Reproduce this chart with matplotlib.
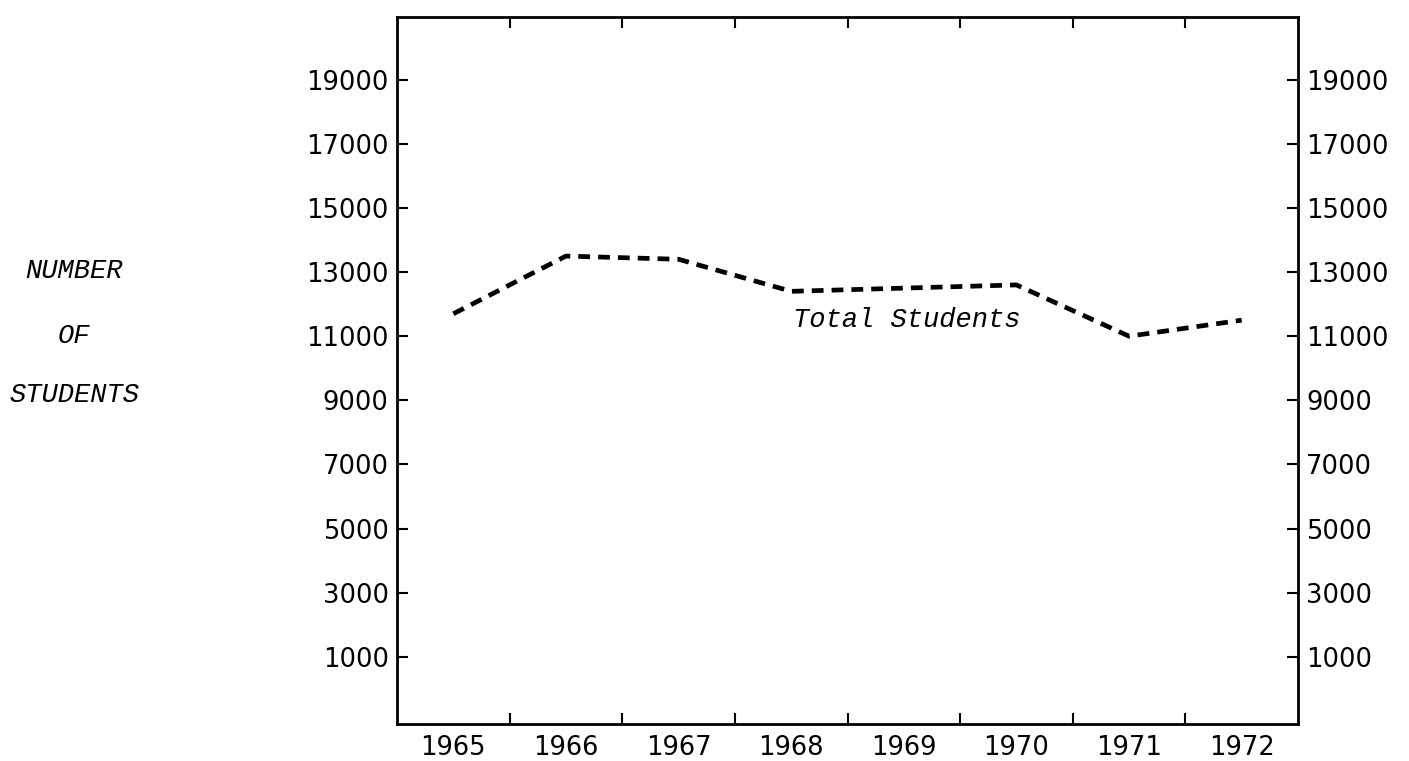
"""Total students per year, 1965-1972 (dashed line, twin-labelled y axis)."""
import matplotlib.pyplot as plt
from matplotlib.ticker import FixedLocator, NullFormatter

YEARS = [1965, 1966, 1967, 1968, 1969, 1970, 1971, 1972]
TOTAL = [11700, 13500, 13400, 12400, 12500, 12600, 11000, 11500]
Y_TICKS = [1000, 3000, 5000, 7000, 9000, 11000, 13000, 15000, 17000, 19000]
SERIES_LABEL = "Total Students"
AXIS_WORDS = ["NUMBER", "OF", "STUDENTS"]

TICK_FONT = "DejaVu Sans"
TYPE_FONT = "Liberation Mono"

fig = plt.figure(figsize=(14.09, 7.61), dpi=100)
ax = fig.add_axes([0.2818, 0.0486, 0.6394, 0.9291])

ax.plot(YEARS, TOTAL, color="black", lw=3.4, linestyle=(0, (2.5, 1.7)))
ax.text(1969.03, 11500, SERIES_LABEL, family=TYPE_FONT, style="italic",
        fontsize=19.5, ha="center", va="center")

ax.set_xlim(1964.5, 1972.5)
ax.set_ylim(-1100, 20960)

# year boundaries carry the tick marks, labels sit between them
ax.xaxis.set_major_locator(FixedLocator([y + 0.5 for y in YEARS[:-1]]))
ax.xaxis.set_major_formatter(NullFormatter())
ax.xaxis.set_minor_locator(FixedLocator(YEARS))
ax.set_xticklabels([str(y) for y in YEARS], minor=True)
ax.tick_params(axis="x", which="major", direction="in", length=8, width=1.5,
               top=True, bottom=True)
ax.tick_params(axis="x", which="minor", length=0, pad=8, labelsize=18.5)

ax.set_yticks(Y_TICKS)
ax.set_yticklabels([str(v) for v in Y_TICKS])
ax.tick_params(axis="y", direction="in", length=8, width=1.5, labelsize=18.5,
               left=True, right=True, labelleft=True, labelright=True, pad=6)
for lab in ax.get_yticklabels() + ax.get_xticklabels(minor=True):
    lab.set_family(TICK_FONT)

for s in ax.spines.values():
    s.set_linewidth(2.0)

for word, yp in zip(AXIS_WORDS, [271, 336, 395]):
    fig.text(74 / 1409, 1 - yp / 761, word, family=TYPE_FONT, style="italic",
             fontsize=19.5, ha="center", va="center")

fig.savefig("out.png", dpi=100)
